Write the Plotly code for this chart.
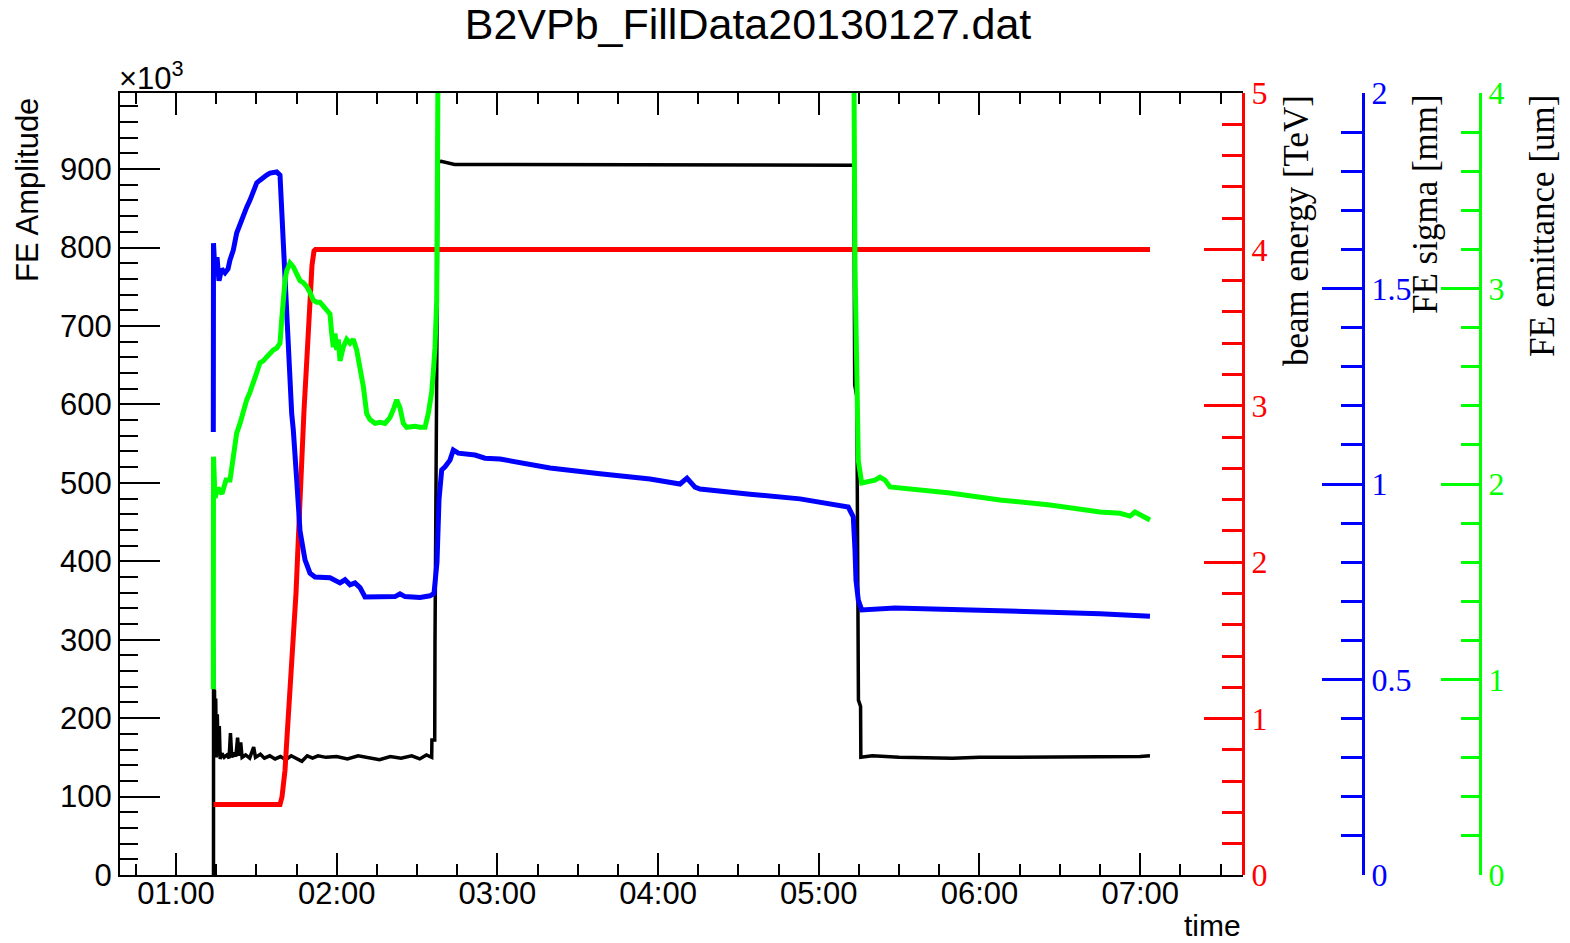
import pandas as pd
import plotly.graph_objects as go

DAY = "2013-01-27"
TITLE = "B2VPb_FillData20130127.dat"

# ---- data: time in minutes after midnight ----
amp_t = [74.0, 74.02, 74.2, 74.37, 74.58, 74.83, 75.08, 75.42, 75.75, 76.17, 76.5, 77.17, 78.0, 79.0,
         79.83, 80.33, 80.83, 81.67, 82.33, 83.0, 83.5, 84.17, 84.67, 86.0, 87.5, 89.0, 89.67, 91.5,
         93, 95, 97, 99, 101, 103, 105, 107, 109, 111, 113, 116, 120, 124, 128, 132, 136, 140, 144,
         148, 151, 153.5, 155.47, 155.55, 156.6, 156.7, 157.2, 157.34, 157.82, 159, 164, 180, 200,
         220, 240, 260, 280, 300, 313.1, 313.4, 314.2, 314.8, 315.6, 315.7, 320, 330, 340, 350, 360,
         380, 400, 420, 423.66]
amp_v = [0, 300, 180, 236, 160, 225, 150, 205, 152, 190, 148, 155, 150, 153,
         149, 181, 150, 156, 151, 175, 152, 169, 150, 153, 149, 163, 150, 154,
         149, 152, 148, 151, 147, 152, 148, 145, 152, 149, 152, 150, 151, 148, 152, 150, 147, 151, 149,
         152, 148, 153, 150, 172, 172, 296, 491, 636, 909, 910, 906, 906, 905,
         906, 905, 905, 905, 905, 905, 625, 610, 223, 215, 150, 152, 150, 149, 149, 150,
         150, 151, 151, 152]

energy_t = [74.0, 98.83, 99.58, 100.70, 101.44, 102.19, 103.31, 104.06, 104.80, 105.55, 106.30,
            107.04, 107.79, 108.54, 109.28, 110.03, 110.78, 111.53, 112.09, 423.66]
energy_v = [0.45, 0.45, 0.50, 0.67, 0.88, 1.07, 1.35, 1.55, 1.80, 2.10, 2.45,
            2.72, 2.97, 3.20, 3.48, 3.72, 3.90, 3.99, 4.0, 4.0]

sigma_t = [73.93, 74.00, 74.56, 75.31, 76.05, 77.06, 78.30, 79.42, 80.16, 81.39, 82.66, 83.90, 85.13,
           86.40, 87.63, 88.86, 90.13, 91.36, 92.60, 93.86, 95.10, 97.60, 98.83, 99.47, 100.06, 100.70,
           101.33, 101.93, 102.56, 103.20, 103.80, 104.43, 105.07, 106.30, 108.17, 110.03, 111.90,
           117.50, 119.37, 121.23, 123.10, 124.97, 126.83, 128.70, 130.57, 136.17, 141.77, 143.63,
           145.50, 151.10, 154.84, 156.33, 157.45, 158.20, 159.20, 160.44, 162.30, 163.54, 165.40,
           171.64, 175.37, 180.97, 199.64, 218.31, 236.98, 248.18, 250.79, 253.78, 255.65, 274.31,
           292.98, 311.02, 312.88, 313.52, 313.89, 314.75, 316.02, 328.45, 348.99, 367.66, 386.33,
           405.00, 423.66]
sigma_v = [1.133, 1.616, 1.54, 1.58, 1.52, 1.55, 1.54, 1.55, 1.573, 1.598, 1.642, 1.667, 1.683,
           1.708, 1.726, 1.752, 1.770, 1.777, 1.785, 1.790, 1.795, 1.798, 1.790, 1.693, 1.606, 1.522,
           1.437, 1.309, 1.223, 1.18, 1.138, 1.054, 1.01, 0.88, 0.806, 0.772, 0.762,
           0.76, 0.752, 0.747, 0.755, 0.742, 0.747, 0.735, 0.711, 0.710, 0.712, 0.719,
           0.712, 0.710, 0.714, 0.72, 0.80, 0.96, 1.036, 1.044, 1.061, 1.087, 1.079,
           1.074, 1.066, 1.064, 1.041, 1.026, 1.013, 1.0, 1.015, 0.992, 0.987, 0.974,
           0.962, 0.941, 0.916, 0.831, 0.754, 0.703, 0.678, 0.683, 0.678, 0.675, 0.672,
           0.668, 0.662]

emit_t = [73.93, 74.00, 74.56, 75.68, 77.18, 78.67, 80.16, 81.39, 82.66, 83.90, 85.13, 86.40, 87.63,
          88.86, 90.13, 91.36, 92.60, 93.86, 95.10, 96.33, 97.60, 98.83, 99.47, 100.06, 100.70, 101.33,
          102.56, 103.80, 105.07, 106.30, 107.53, 108.80, 110.03, 111.26, 112.53, 113.77, 115.00,
          116.27, 117.50, 118.13, 118.73, 119.37, 120.00, 120.60, 121.23, 122.46, 123.73, 124.97,
          126.20, 127.47, 128.70, 129.93, 131.20, 132.43, 134.30, 136.17, 138.03, 139.90, 141.13,
          142.40, 143.63, 144.87, 146.14, 149.24, 151.10, 152.97, 154.20, 155.47, 156.07, 156.70,
          157.34, 158.20, 158.57, 312.40, 312.77, 313.52, 314.38, 314.75, 316.02, 318.37, 320.99,
          322.85, 324.72, 326.59, 330.32, 348.99, 367.66, 386.33, 405.00, 412.46, 416.20, 418.06,
          423.66]
emit_v = [0.95, 2.14, 1.93, 1.98, 1.95, 2.02, 2.02, 2.14, 2.26, 2.31, 2.38, 2.43, 2.47,
          2.53, 2.57, 2.62, 2.63, 2.65, 2.67, 2.685, 2.695, 2.72, 2.84, 2.96, 3.04, 3.09,
          3.13, 3.11, 3.08, 3.04, 3.03, 3.01, 2.98, 2.94, 2.93, 2.93, 2.91,
          2.89, 2.87, 2.77, 2.70, 2.77, 2.685, 2.74, 2.63, 2.70, 2.74, 2.72,
          2.74, 2.685, 2.60, 2.50, 2.36, 2.33, 2.31, 2.315, 2.31, 2.34, 2.38,
          2.43, 2.39, 2.31, 2.29, 2.295, 2.29, 2.29, 2.36, 2.47, 2.57, 2.70,
          2.94, 4.0, 6.0, 6.0, 6.0, 3.11, 2.43, 2.12, 2.005, 2.01, 2.02,
          2.035, 2.02, 1.985, 1.98, 1.954, 1.918, 1.893, 1.857, 1.85, 1.836, 1.857,
          1.816]

X_RANGE_MIN = [39.09, 458.39]


def to_dt(mins):
    base = pd.Timestamp(DAY)
    return [base + pd.to_timedelta(m, unit="min") for m in mins]


W, H = 1570, 943
SANS = "Liberation Sans"
SERIF = "Liberation Serif"
RED, BLUE, GREEN = "#ff0000", "#0000ff", "#00ff00"

fig = go.Figure()
fig.add_trace(go.Scatter(x=to_dt(sigma_t), y=sigma_v, mode="lines", yaxis="y3",
                         line=dict(color=BLUE, width=5)))
fig.add_trace(go.Scatter(x=to_dt(emit_t), y=emit_v, mode="lines", yaxis="y4",
                         line=dict(color=GREEN, width=5)))
fig.add_trace(go.Scatter(x=to_dt(energy_t), y=energy_v, mode="lines", yaxis="y2",
                         line=dict(color=RED, width=5)))
fig.add_trace(go.Scatter(x=to_dt(amp_t), y=amp_v, mode="lines", yaxis="y",
                         line=dict(color="black", width=3.5)))

x0, x1 = 120 / W, 1243 / W
y0, y1 = (H - 875) / H, (H - 93) / H


def side_axis(color, pos, rng, dtick, mdtick, tl, mtl):
    return dict(overlaying="y", anchor="free", position=pos, side="right", domain=[y0, y1],
                range=rng, dtick=dtick, tick0=0, ticks="inside", ticklen=tl, tickwidth=3,
                tickcolor=color, showline=True, linecolor=color, linewidth=3,
                showgrid=False, zeroline=False, automargin=False, ticklabelstandoff=0,
                tickfont=dict(family=SERIF, size=32, color=color),
                minor=dict(dtick=mdtick, tick0=0, ticks="inside", ticklen=mtl, tickwidth=3,
                           tickcolor=color))


fig.update_layout(
    template="none",
    width=W, height=H, margin=dict(l=0, r=0, t=0, b=0, pad=0, autoexpand=False),
    plot_bgcolor="white", paper_bgcolor="white", showlegend=False,
    title=dict(text=TITLE, x=748 / W, xanchor="center", y=1 - 24 / H, yanchor="middle",
               xref="paper", yref="container", automargin=False,
               font=dict(family=SANS, size=43, color="black")),
    xaxis=dict(domain=[x0, x1], type="date", range=to_dt(X_RANGE_MIN), tickformat="%H:%M",
               dtick=3600000, tick0=DAY + " 00:00:00", ticks="inside", ticklen=22, tickwidth=2,
               tickcolor="black", showline=True, linecolor="black", linewidth=2, mirror="ticks",
               showgrid=False, zeroline=False, automargin=False, ticklabelstandoff=-10,
               tickfont=dict(family=SANS, size=31, color="black"),
               minor=dict(dtick=900000, ticks="inside", ticklen=11, tickwidth=2, tickcolor="black")),
    yaxis=dict(domain=[y0, y1], range=[0, 997], dtick=100, tick0=0, ticks="inside", ticklen=40,
               tickwidth=2, tickcolor="black", showline=True, linecolor="black", linewidth=2,
               showgrid=False, zeroline=False, automargin=False,
               tickfont=dict(family=SANS, size=31, color="black"),
               minor=dict(dtick=20, ticks="inside", ticklen=18, tickwidth=2, tickcolor="black")),
    yaxis2=side_axis(RED, 1243 / W, [0, 5], 1, 0.2, 38, 20),
    yaxis3=side_axis(BLUE, 1363 / W, [0, 2], 0.5, 0.1, 40, 21),
    yaxis4=side_axis(GREEN, 1480 / W, [0, 4], 1, 0.2, 38, 18),
)

ann = [
    dict(text="FE Amplitude", x=28 / W, y=1 - 190 / H, textangle=-90,
         font=dict(family=SANS, size=31, color="black")),
    dict(text="×10<sup>3</sup>", x=117 / W, y=1 - 76 / H, xanchor="left",
         font=dict(family=SANS, size=31, color="black")),
    dict(text="time", x=1243 / W, y=1 - 925 / H, xanchor="right",
         font=dict(family=SANS, size=30, color="black")),
    dict(text="beam energy [TeV]", x=1296 / W, y=1 - 231 / H, textangle=-90,
         font=dict(family=SERIF, size=35, color="black")),
    dict(text="FE sigma [mm]", x=1425 / W, y=1 - 204 / H, textangle=-90,
         font=dict(family=SERIF, size=35, color="black")),
    dict(text="FE emittance [um]", x=1543 / W, y=1 - 226 / H, textangle=-90,
         font=dict(family=SERIF, size=35, color="black")),
]
for a in ann:
    a.setdefault("xanchor", "center")
    a.update(xref="paper", yref="paper", yanchor="middle", showarrow=False)
    fig.add_annotation(**a)

fig.write_html("out.html", config={"displayModeBar": False},
               post_script="document.body.style.margin='0px';")
